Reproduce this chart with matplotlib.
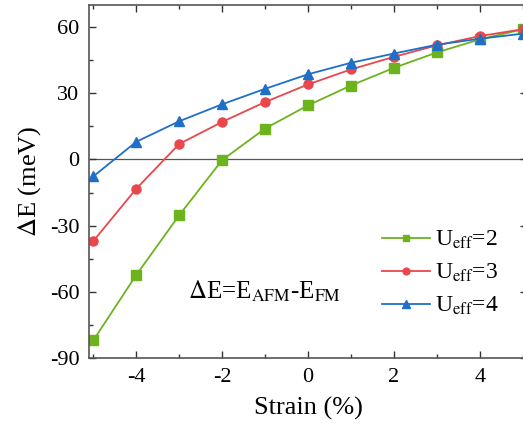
import matplotlib.pyplot as plt
from matplotlib.ticker import MultipleLocator

plt.rcParams['font.family'] = ['Liberation Serif', 'DejaVu Serif']
plt.rcParams['mathtext.fontset'] = 'stix'
plt.rcParams['axes.unicode_minus'] = False

strain = [-5, -4, -3, -2, -1, 0, 1, 2, 3, 4, 5]
u2 = [-82, -52.4, -25.3, -0.3, 14, 24.5, 33.5, 41.5, 48.5, 54.4, 59]
u3 = [-37, -13.3, 7, 17, 26, 34, 40.8, 46.5, 51.7, 55.9, 59]
u4 = [-7.7, 8, 17.3, 25, 32, 38.6, 43.8, 48, 52, 54.7, 57]

fig = plt.figure(figsize=(5.23, 4.25), dpi=100)
ax = fig.add_axes([89/523, 67/425, 438/523, 353/425])

ax.axhline(0, color='#555555', lw=0.9, zorder=1)
ax.plot(strain, u2, '-s', color='#6cb31e', ms=6.5, lw=1.3, label=r'U$_{\rm eff}$=2')
ax.plot(strain, u3, '-o', color='#e8474c', ms=6.5, lw=1.3, label=r'U$_{\rm eff}$=3')
ax.plot(strain, u4, '-^', color='#1f6fc9', ms=7.5, lw=1.3, label=r'U$_{\rm eff}$=4')

ax.set_xlim(-5.1, 5.1)
ax.set_ylim(-90, 70)
ax.xaxis.set_major_locator(MultipleLocator(2))
ax.xaxis.set_minor_locator(MultipleLocator(1))
ax.yaxis.set_major_locator(MultipleLocator(30))
ax.yaxis.set_minor_locator(MultipleLocator(15))
ax.tick_params(which='both', direction='in', top=True, right=True, labelsize=16,
               colors='#333333', labelcolor='black')
ax.tick_params(which='major', length=5, width=1, pad=7)
ax.tick_params(which='minor', length=3, width=1)
for s in ax.spines.values():
    s.set_color('#555555')
    s.set_linewidth(1.2)

ax.set_xlabel('Strain (%)', fontsize=19, labelpad=7)
ax.set_ylabel(r'$\Delta$E (meV)', fontsize=19, labelpad=5)

ax.text(-2.8, -60, r'$\Delta$E=E$_{\rm AFM}$-E$_{\rm FM}$', fontsize=18, va='center')

ax.legend(loc='lower right', bbox_to_anchor=(0.985, 0.055), frameon=False, fontsize=17,
          handlelength=2.0, handletextpad=0.25, labelspacing=0.45, markerscale=0.75)

fig.savefig('out.png', dpi=100)
